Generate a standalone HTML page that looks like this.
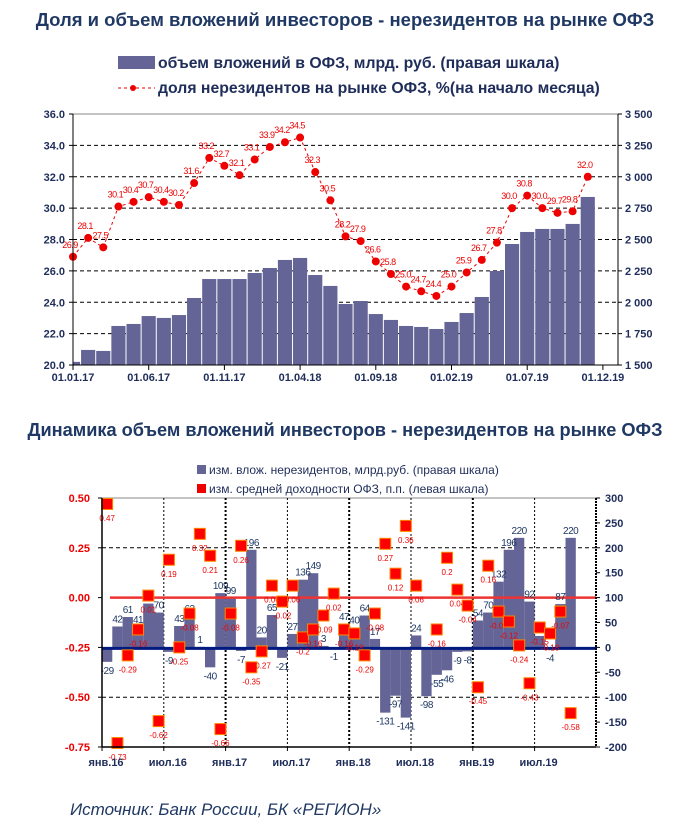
<!DOCTYPE html>
<html><head><meta charset="utf-8"><style>
html,body{margin:0;padding:0;background:#fff;}
svg{display:block;font-family:"Liberation Sans",Arial,sans-serif;}
</style></head><body>
<svg id="root" width="690" height="825" viewBox="0 0 690 825">
<text x="345" y="26" text-anchor="middle" font-size="18.5" font-weight="bold" fill="#1f3864">Доля и объем вложений инвесторов - нерезидентов на рынке ОФЗ</text>
<g>
<rect x="118" y="56" width="37" height="13" fill="#646496"/>
<text x="158" y="68" font-size="15.8" font-weight="bold" fill="#1f2d5a">объем вложений в ОФЗ, млрд. руб. (правая шкала)</text>
<line x1="118" y1="88" x2="155" y2="88" stroke="#e00" stroke-dasharray="3,3" stroke-width="1"/>
<circle cx="133" cy="88" r="3" fill="#e00"/>
<text x="158" y="93" font-size="15.8" font-weight="bold" fill="#1f2d5a">доля нерезидентов на рынке ОФЗ, %(на начало месяца)</text>
</g>
<g id="top"></g>
<text x="345" y="436" text-anchor="middle" font-size="18.2" font-weight="bold" fill="#1f3864">Динамика объем вложений инвесторов - нерезидентов на рынке ОФЗ</text>
<g>
<rect x="197" y="465" width="9" height="9" fill="#646496"/>
<text x="209" y="474" font-size="12" fill="#1f2d5a">изм. влож. нерезидентов, млрд.руб. (правая шкала)</text>
<rect x="197" y="484" width="9" height="9" fill="#e00"/>
<text x="209" y="493" font-size="12" fill="#1f2d5a">изм. средней доходности ОФЗ, п.п. (левая шкала)</text>
</g>
<g id="bot"></g>
<text x="70" y="815" font-size="17" font-style="italic" fill="#1f3864">Источник: Банк России, БК «РЕГИОН»</text>
</svg>
<script>
// ---- top chart data ----
const topShare = [26.9,28.1,27.5,30.1,30.4,30.7,30.4,30.2,31.6,33.2,32.7,32.1,33.1,33.9,34.2,34.5,32.3,30.5,28.2,27.9,26.6,25.8,25.0,24.7,24.4,25.0,25.9,26.7,27.8,30.0,30.8,30.0,29.7,29.8,32.0];
const topVolume = [1525,1620,1612,1811,1827,1890,1875,1898,2034,2185,2185,2185,2233,2273,2337,2353,2217,2130,1986,2010,1906,1859,1811,1803,1787,1843,1914,2042,2249,2464,2560,2584,2584,2624,2839];
const topLeftTicks = ["20.0","22.0","24.0","26.0","28.0","30.0","32.0","34.0","36.0"];
const topRightTicks = ["1 500","1 750","2 000","2 250","2 500","2 750","3 000","3 250","3 500"];
const topDateLabels = ["01.01.17","01.06.17","01.11.17","01.04.18","01.09.18","01.02.19","01.07.19","01.12.19"];
// ---- bottom chart data ----
const botFlows = [-29,42,61,41,88,70,-9,43,63,1,-40,109,99,-7,196,20,65,-21,27,136,149,3,-1,47,40,64,17,-131,-97,-141,24,-98,-55,-46,-9,-8,54,70,132,196,220,92,23,-4,87,220];
const botYield = [0.47,-0.73,-0.29,-0.16,0.01,-0.62,0.19,-0.25,-0.08,0.32,0.21,-0.66,-0.08,0.26,-0.35,-0.27,0.06,-0.02,0.06,-0.2,-0.16,-0.09,0.02,-0.16,-0.18,-0.29,-0.08,0.27,0.12,0.36,0.06,null,-0.16,0.20,0.04,-0.04,-0.45,0.16,-0.07,-0.12,-0.24,-0.43,-0.15,-0.18,-0.07,-0.58];
const botLeftTicks = ["0.50","0.25","0.00","-0.25","-0.50","-0.75"];
const botRightTicks = ["300","250","200","150","100","50","0","-50","-100","-150","-200"];
const botMonthLabels = ["янв.16","июл.16","янв.17","июл.17","янв.18","июл.18","янв.19","июл.19"];

const NS="http://www.w3.org/2000/svg";
function mk(parent,tag,attrs){const e=document.createElementNS(NS,tag);for(const k in attrs)e.setAttribute(k,attrs[k]);parent.appendChild(e);return e;}

// ---------- TOP ----------
(function(){
const g=document.getElementById('top');
const X0=73,X1=618,Y0=114,Y1=365,M=15.14;
const xi=i=>X0+M*i;
const yL=v=>Y1-(v-20)/16*(Y1-Y0);
const yR=v=>Y1-(v-1500)/2000*(Y1-Y0);
for(let k=1;k<8;k++){const y=Y1-k*(Y1-Y0)/8;const l=mk(g,'line',{x1:X0,x2:X1,y1:y,y2:y,stroke:'#000','stroke-dasharray':'4,3','stroke-width':1});

}
mk(g,'line',{x1:X0,x2:X1,y1:Y0,y2:Y0,stroke:'#888','stroke-width':1});
const clip=mk(mk(g,'defs',{}),'clipPath',{id:'tc'});mk(clip,'rect',{x:X0,y:Y0,width:X1-X0,height:Y1-Y0});
const bg=mk(g,'g',{'clip-path':'url(#tc)'});
topVolume.forEach((v,i)=>{const b=mk(bg,'rect',{x:xi(i)-M/2+0.5,y:yR(v),width:M-1,height:Y1-yR(v),fill:'#646496'});

});
const pts=topShare.map((v,i)=>xi(i)+','+yL(v)).join(' ');
const pl=mk(g,'polyline',{points:pts,fill:'none',stroke:'#e00','stroke-dasharray':'3,3','stroke-width':1});


topShare.forEach((v,i)=>{const c=mk(g,'circle',{cx:xi(i),cy:yL(v),r:4,fill:'#e00'});


const t=mk(g,'text',{x:xi(i)-3,y:yL(v)-9,'text-anchor':'middle','font-size':9,fill:'#e00','letter-spacing':'-0.5'});t.textContent=v.toFixed(1);

});
mk(g,'line',{x1:X0,x2:X0,y1:Y0,y2:Y1,stroke:'#000'});
mk(g,'line',{x1:X1,x2:X1,y1:Y0,y2:Y1,stroke:'#000'});
mk(g,'line',{x1:X0,x2:X1,y1:Y1,y2:Y1,stroke:'#000'});
topLeftTicks.forEach((s,k)=>{const y=Y1-k*(Y1-Y0)/8;mk(g,'line',{x1:X0-4,x2:X0,y1:y,y2:y,stroke:'#000'});
const t=mk(g,'text',{x:X0-8,y:y+4,'text-anchor':'end','font-size':11,'font-weight':'bold',fill:'#1f2d5a'});t.textContent=s;

});
topRightTicks.forEach((s,k)=>{const y=Y1-k*(Y1-Y0)/8;mk(g,'line',{x1:X1,x2:X1+4,y1:y,y2:y,stroke:'#000'});
const t=mk(g,'text',{x:X1+7,y:y+4,'font-size':11,'font-weight':'bold',fill:'#1f2d5a'});t.textContent=s;

});
topDateLabels.forEach((s,k)=>{const x=xi(k*5);mk(g,'line',{x1:x,x2:x,y1:Y1,y2:Y1+5,stroke:'#000'});
const t=mk(g,'text',{x:x,y:Y1+16,'text-anchor':'middle','font-size':11,'font-weight':'bold',fill:'#1f2d5a'});t.textContent=s;

});
})();

// ---------- BOTTOM ----------
(function(){
const g=document.getElementById('bot');
const X0=102,X1=596,Y0=498,Y1=747,M=10.3;
const xs=i=>X0+M*i;
const yL=v=>Y0+(0.5-v)/1.25*(Y1-Y0);
const yR=v=>Y0+(300-v)/500*(Y1-Y0);
mk(g,'line',{x1:X0,x2:X1,y1:Y0,y2:Y0,stroke:'#888'});
[0.25,-0.5].forEach(v=>{const l=mk(g,'line',{x1:X0,x2:X1,y1:yL(v),y2:yL(v),stroke:'#000','stroke-dasharray':'4,3'});

});
for(let k=1;k<8;k++){const x=xs(k*6);mk(g,'line',{x1:x,x2:x,y1:Y0,y2:Y1,stroke:'#000','stroke-dasharray':'2,2','stroke-width':k%2?1:2});}
botFlows.forEach((v,i)=>{const y0=yR(0),y=yR(v);const b=mk(g,'rect',{x:xs(i),y:Math.min(y,y0),width:M,height:Math.max(1,Math.abs(y-y0)),fill:'#646496'});

});
mk(g,'line',{x1:X0+8,x2:X1,y1:yL(0),y2:yL(0),stroke:'#e33','stroke-width':2.5});
mk(g,'line',{x1:X0,x2:X1,y1:yR(0)+1,y2:yR(0)+1,stroke:'#001a80','stroke-width':3});
botFlows.forEach((v,i)=>{const y=v>=0?yR(v)-4:yR(v)+12;const t=mk(g,'text',{x:xs(i)+M/2,y:y,'text-anchor':'middle','font-size':10,fill:'#1f3864','letter-spacing':'-0.5'});t.textContent=v;

});
botYield.forEach((v,i)=>{if(v===null)return;const cx=xs(i)+M/2,cy=yL(v);
const r=mk(g,'rect',{x:cx-5.5,y:cy-5.5,width:11,height:11,fill:'#f00',stroke:'#f80','stroke-width':1});


const t=mk(g,'text',{x:cx,y:cy+17,'text-anchor':'middle','font-size':8,fill:'#e00'});t.textContent=String(v).replace(/^(-?)0?\./,'$10.');

});
mk(g,'line',{x1:X0,x2:X0,y1:Y0,y2:Y1,stroke:'#000','stroke-width':1.5});
mk(g,'line',{x1:X1,x2:X1,y1:Y0,y2:Y1,stroke:'#000','stroke-width':2,'stroke-dasharray':'2,1'});
mk(g,'line',{x1:X0,x2:X1,y1:Y1,y2:Y1,stroke:'#000','stroke-width':1.5});
botLeftTicks.forEach((s,k)=>{const y=Y0+k*(Y1-Y0)/5;mk(g,'line',{x1:X0-4,x2:X0,y1:y,y2:y,stroke:'#000'});
const t=mk(g,'text',{x:X0-12,y:y+4,'text-anchor':'end','font-size':11,'font-weight':'bold',fill:'#e00'});t.textContent=s;

});
botRightTicks.forEach((s,k)=>{const y=Y0+k*(Y1-Y0)/10;mk(g,'line',{x1:X1,x2:X1+4,y1:y,y2:y,stroke:'#000'});
const t=mk(g,'text',{x:X1+9,y:y+4,'font-size':11,'font-weight':'bold',fill:'#1f2d5a'});t.textContent=s;

});
botMonthLabels.forEach((s,k)=>{const x=xs(k*6);mk(g,'line',{x1:x,x2:x,y1:Y1,y2:Y1+4,stroke:'#000'});
const t=mk(g,'text',{x:x+4,y:Y1+19,'text-anchor':'middle','font-size':11,'font-weight':'bold',fill:'#1f2d5a'});t.textContent=s;

});
})();
</script>
</body></html>
